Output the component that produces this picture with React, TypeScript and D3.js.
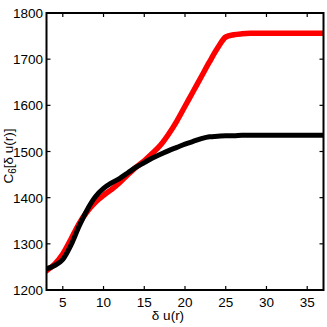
import React from "react";
import * as d3 from "d3";

const xs = [3, 4, 5, 6, 7, 8, 9, 10, 11, 12, 13, 14, 15, 16, 17, 18, 19, 20, 21, 22, 23, 24, 25, 26, 27, 28, 29, 30, 31, 32, 33, 34, 35, 36, 37];

const blackVals = [1246, 1253, 1266, 1297, 1338, 1374, 1402, 1420, 1432, 1442, 1454, 1466, 1476, 1486, 1494, 1502, 1509, 1516, 1522, 1528, 1532, 1533, 1534, 1534, 1535, 1535, 1535, 1535, 1535, 1535, 1535, 1535, 1535, 1535, 1535];

const redVals = [1242, 1256, 1278, 1310, 1344, 1370, 1390, 1405, 1418, 1433, 1450, 1466, 1480, 1496, 1514, 1538, 1566, 1598, 1630, 1662, 1694, 1724, 1748, 1753, 1755, 1756, 1756, 1756, 1756, 1756, 1756, 1756, 1756, 1756, 1756];

const xTicks = [5, 10, 15, 20, 25, 30, 35];
const yTicks = [1200, 1300, 1400, 1500, 1600, 1700, 1800];

const W = 327;
const H = 327;
const left = 46.5;
const right = 323.5;
const top = 13;
const bottom = 290;
const font = "'Liberation Sans Narrow', 'Liberation Sans', Arial, sans-serif";

export default function App() {
  const x = d3.scaleLinear().domain([3, 37]).range([left, right]);
  const y = d3.scaleLinear().domain([1200, 1800]).range([bottom, top]);

  const line = d3
    .line<number>()
    .x((_, i) => x(xs[i]))
    .y((d) => y(d))
    .curve(d3.curveMonotoneX);

  const tick = 4;

  return (
    <svg
      width={W}
      height={H}
      style={{ position: "absolute", left: 0, top: 0, background: "#fff" }}
      fontFamily={font}
    >
      <defs>
        <clipPath id="plot">
          <rect x={left} y={top} width={right - left} height={bottom - top} />
        </clipPath>
      </defs>
      <g clipPath="url(#plot)">
        <path d={line(redVals) || ""} fill="none" stroke="#ff0000" strokeWidth={5.5} strokeLinejoin="round" strokeLinecap="round" />
        <path d={line(blackVals) || ""} fill="none" stroke="#000" strokeWidth={5} strokeLinejoin="round" strokeLinecap="round" />
      </g>

      <rect x={left} y={top} width={right - left} height={bottom - top} fill="none" stroke="#000" strokeWidth={2} />

      {xTicks.map((t) => (
        <g key={"x" + t}>
          <line x1={x(t)} x2={x(t)} y1={bottom} y2={bottom - tick} stroke="#000" strokeWidth={1.2} />
          <line x1={x(t)} x2={x(t)} y1={top} y2={top + tick} stroke="#000" strokeWidth={1.2} />
          <text x={x(t)} y={307} textAnchor="middle" fontSize={13.5} fill="#000">
            {t}
          </text>
        </g>
      ))}
      {yTicks.map((t) => (
        <g key={"y" + t}>
          <line x1={left} x2={left + tick} y1={y(t)} y2={y(t)} stroke="#000" strokeWidth={1.2} />
          <line x1={right} x2={right - tick} y1={y(t)} y2={y(t)} stroke="#000" strokeWidth={1.2} />
          <text x={43} y={y(t) + 5} textAnchor="end" fontSize={13.5} fill="#000">
            {t}
          </text>
        </g>
      ))}

      <text x={168} y={320} textAnchor="middle" fontSize={13.5} fill="#000">
        δ u(r)
      </text>
      <text transform="translate(13,156) rotate(-90)" textAnchor="middle" fontSize={13.5} fill="#000">
        C<tspan fontSize={10} dy={3}>6</tspan>
        <tspan dy={-3}>[δ u(r)]</tspan>
      </text>
    </svg>
  );
}
